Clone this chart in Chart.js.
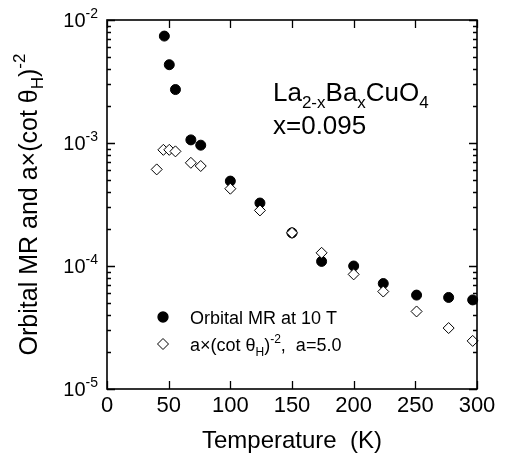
<!DOCTYPE html>
<html><head><meta charset="utf-8">
<script src="https://cdn.jsdelivr.net/npm/chart.js@4/dist/chart.umd.min.js"></script>
<style>html,body{margin:0;padding:0;background:#fff;}#wrap{width:505px;height:462px;}</style>
</head><body><div id="wrap"><canvas id="c" width="505" height="462"></canvas></div>
<script>
const tempsMR = [46.5, 50.5, 55.5, 68, 76, 100, 124, 150, 174, 200, 224, 251, 277, 296.5];
const orbitalMR = [7.4e-3, 4.33e-3, 2.72e-3, 1.06e-3, 9.6e-4, 4.9e-4, 3.25e-4, 1.86e-4, 1.09e-4, 1.0e-4, 7.2e-5, 5.8e-5, 5.55e-5, 5.3e-5];
const tempsCot = [40.3, 45.7, 50.5, 55.5, 68, 76, 100, 124, 150, 174, 200, 224, 251, 277, 296.5];
const cotHall = [6.1e-4, 8.8e-4, 8.8e-4, 8.55e-4, 6.9e-4, 6.5e-4, 4.25e-4, 2.83e-4, 1.86e-4, 1.28e-4, 8.55e-5, 6.2e-5, 4.27e-5, 3.13e-5, 2.46e-5];
const xTicks = [0, 50, 100, 150, 200, 250, 300];
const yDecades = [-5, -4, -3, -2];
const legendLabels = ['Orbital MR at 10 T', 'a\u00d7(cot \u03b8H)-2,  a=5.0'];

const FONT = '"Liberation Sans", Arial, Helvetica, sans-serif';
function font(s){ return s + 'px ' + FONT; }
function runsWidth(ctx, runs){ let w=0; for(const r of runs){ctx.font=font(r.s); w+=ctx.measureText(r.t).width;} return w; }
function drawRuns(ctx, runs, x, y){ ctx.textAlign='left'; ctx.textBaseline='alphabetic'; for(const r of runs){ctx.font=font(r.s); ctx.fillText(r.t, x, y + (r.dy||0)); x+=ctx.measureText(r.t).width;} }

const decor = {
  id: 'decor',
  afterDraw(chart){
    const ctx = chart.ctx, a = chart.chartArea, xs = chart.scales.x, ys = chart.scales.y;
    ctx.save();
    ctx.strokeStyle = '#000'; ctx.fillStyle = '#000'; ctx.lineWidth = 1.6;
    ctx.strokeRect(a.left, a.top, a.right - a.left, a.bottom - a.top);
    ctx.lineWidth = 1.3;
    ctx.beginPath();
    for (const t of xTicks){
      const px = Math.round(xs.getPixelForValue(t)) + 0.5;
      ctx.moveTo(px, a.bottom); ctx.lineTo(px, a.bottom - 8);
      ctx.moveTo(px, a.top); ctx.lineTo(px, a.top + 8);
    }
    for (const d of yDecades){
      for (let m = 1; m <= 9; m++){
        if (d === -2 && m > 1) break;
        const py = Math.round(ys.getPixelForValue(m * Math.pow(10, d))) + 0.5;
        const len = m === 1 ? 8 : 4;
        ctx.moveTo(a.left, py); ctx.lineTo(a.left + len, py);
        ctx.moveTo(a.right, py); ctx.lineTo(a.right - len, py);
      }
    }
    ctx.stroke();
    // x tick labels
    ctx.font = font(22); ctx.textAlign = 'center'; ctx.textBaseline = 'middle';
    for (const t of xTicks){ ctx.fillText(String(t), xs.getPixelForValue(t), 406); }
    // y tick labels
    for (const d of yDecades){
      const py = ys.getPixelForValue(Math.pow(10, d));
      const runs = [{t:'10', s:20, dy:0}, {t:String(d), s:14, dy:-9}];
      const w = runsWidth(ctx, runs);
      drawRuns(ctx, runs, 98 - w, py + 7);
    }
    // x title
    ctx.font = font(24); ctx.textAlign = 'center'; ctx.textBaseline = 'alphabetic';
    ctx.fillText('Temperature  (K)', (a.left + a.right) / 2, 448);
    // y title rotated
    ctx.save();
    ctx.translate(37, (a.top + a.bottom) / 2);
    ctx.rotate(-Math.PI / 2);
    const yt = [{t:'Orbital MR and a\u00d7(cot \u03b8', s:25}, {t:'H', s:17, dy:6}, {t:')', s:25}, {t:'-2', s:17, dy:-12}];
    drawRuns(ctx, yt, -runsWidth(ctx, yt) / 2, 0);
    ctx.restore();
    // annotation
    drawRuns(ctx, [{t:'La', s:26}, {t:'2-x', s:17, dy:7}, {t:'Ba', s:26}, {t:'x', s:17, dy:7}, {t:'CuO', s:26}, {t:'4', s:17, dy:7}], 273, 101);
    drawRuns(ctx, [{t:'x=0.095', s:26}], 273, 134);
    // legend
    Chart.helpers.drawPoint(ctx, {pointStyle:'circle', radius:5, borderWidth:1}, 163, 317);
    ctx.fillStyle = '#fff'; ctx.lineWidth = 1;
    Chart.helpers.drawPoint(ctx, {pointStyle:'rectRot', radius:5.5, borderWidth:1}, 163, 344);
    ctx.fillStyle = '#000';
    drawRuns(ctx, [{t:legendLabels[0], s:18}], 190, 324);
    const lp = legendLabels[1].split('H');
    const pre = lp[0], post = lp[1].replace('-2', '');
    drawRuns(ctx, [{t:pre, s:18}, {t:'H', s:12, dy:5}, {t:')', s:18}, {t:'-2', s:12, dy:-8}, {t:post.slice(1), s:18}], 190, 351);
    ctx.restore();
  }
};

new Chart(document.getElementById('c'), {
  type: 'scatter',
  data: {
    datasets: [
      { label: legendLabels[0], data: tempsMR.map((t,i)=>({x:t, y:orbitalMR[i]})), pointStyle:'circle', pointRadius:5, backgroundColor:'#000', borderColor:'#000', borderWidth:1, order:2 },
      { label: legendLabels[1], data: tempsCot.map((t,i)=>({x:t, y:cotHall[i]})), pointStyle:'rectRot', pointRadius:5.5, backgroundColor:'#fff', borderColor:'#000', borderWidth:1, order:1 }
    ]
  },
  options: {
    responsive: false, animation: false, devicePixelRatio: 1,
    layout: { padding: { left: 107, top: 20, right: 28, bottom: 73 } },
    clip: false,
    plugins: { legend: { display: false }, tooltip: { enabled: false } },
    scales: {
      x: { type: 'linear', min: 0, max: 300, display: false },
      y: { type: 'logarithmic', min: 1e-5, max: 1e-2, display: false }
    }
  },
  plugins: [decor]
});
</script></body></html>
